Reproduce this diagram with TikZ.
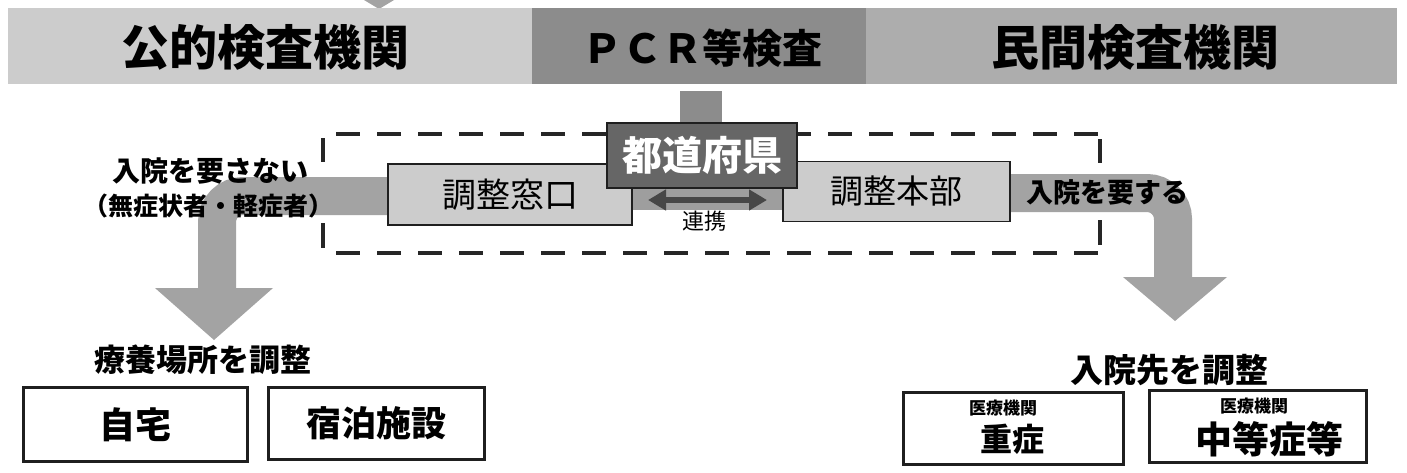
\documentclass[tikz,border=0pt]{standalone}
\usepackage{fontspec}
\setmainfont{Noto Sans CJK JP}
\usetikzlibrary{arrows.meta}
\definecolor{barL}{gray}{0.80}
\definecolor{barM}{gray}{0.55}
\definecolor{barR}{gray}{0.68}
\definecolor{bandgray}{gray}{0.64}
\definecolor{prefgray}{gray}{0.40}
\definecolor{boxgray}{gray}{0.80}
\definecolor{linkbg}{gray}{0.62}
\definecolor{linkarrow}{gray}{0.28}
\definecolor{edge}{gray}{0.12}
\begin{document}
\begin{tikzpicture}[x=1pt,y=-1pt,
  fs/.style={font=\fontsize{#1}{#1}\selectfont},
  fsb/.style={font=\fontsize{#1}{#1}\selectfont\bfseries},
  barsec/.style={inner sep=0pt, minimum height=76pt},
  band/.style={line width=38pt, draw=bandgray, rounded corners=26pt},
  head/.style={fill=bandgray},
  grayBox/.style={draw=edge, line width=1.6pt, fill=boxgray, inner sep=0pt},
  whiteBox/.style={draw=edge, line width=3.5pt, fill=white, inner sep=0pt},
  frame/.style={line width=4.5pt, draw=black!85, dash pattern=on 24pt off 17pt},
  txt/.style={inner sep=0pt, text=black}
]
\useasboundingbox[fill=white] (0,0) rectangle (1407,472);

% small cut-off arrow tip at the top
\fill[bandgray] (364,0) -- (394,0) -- (379,9) -- cycle;

% top bar
\node[barsec, fill=barL, minimum width=524pt] (barl) at (270,46) {};
\node[barsec, fill=barM, minimum width=334pt] (barm) at (699,46) {};
\node[barsec, fill=barR, minimum width=531pt] (barr) at (1131.5,46) {};
\node[txt, fsb=48] (tl) at (265,47) {公的検査機関};
\node[txt, fsb=40] (tm) at (702,48) {ＰＣＲ等検査};
\node[txt, fsb=48] (tr) at (1135,47) {民間検査機関};

% stem below PCR
\node[fill=barM, inner sep=0pt, minimum width=42pt, minimum height=34pt] (stem) at (701,108) {};

% link background between boxes
\node[fill=linkbg, inner sep=0pt, minimum width=152pt, minimum height=22pt] (linkbg) at (707,199) {};

% boxes
\node[grayBox, minimum width=244pt, minimum height=61pt] (mado) at (510,194.5) {};
\node[grayBox, minimum width=227pt, minimum height=60pt] (honbu) at (896.5,191.5) {};

% bands (connectors)
\coordinate (lcorner) at (217,196);
\coordinate (lend) at (217,292);
\coordinate (rcorner) at (1173,193);
\coordinate (rend) at (1173,280);
\draw[band] (mado.west |- lcorner) ++(2,0) -- (lcorner) -- (lend);
\draw[band] (honbu.east |- rcorner) ++(-2,0) -- (rcorner) -- (rend);
\fill[head] (155,288) -- (273,288) -- (214,340) -- cycle;
\fill[head] (1123,277) -- (1227,277) -- (1175,321) -- cycle;

% redraw boxes on top of band ends
\node[grayBox, minimum width=244pt, minimum height=61pt] (mado2) at (mado) {};
\node[grayBox, minimum width=227pt, minimum height=60pt] (honbu2) at (honbu) {};
\node[txt, fs=34] at (mado) {調整窓口};
\node[txt, fs=33] at (honbu) {調整本部};

% dashed frame
\draw[frame] (336,134) -- (1098,134);
\draw[frame] (336,253) -- (1098,253);
\draw[line width=4.5pt, draw=black!85] (323,138) -- (323,162);
\draw[line width=4.5pt, draw=black!85] (323,223) -- (323,248);
\draw[line width=4.5pt, draw=black!85] (1100,139) -- (1100,163);
\draw[line width=4.5pt, draw=black!85] (1100,220) -- (1100,245);

% prefecture box
\node[draw=edge, line width=1.6pt, fill=prefgray, inner sep=0pt, minimum width=190pt, minimum height=65pt] (pref) at (702,155.5) {};
\node[txt, fsb=40, text=white] at (pref) {都道府県};

% link arrow
\draw[line width=6pt, draw=linkarrow, {Triangle[width=20pt,length=18pt]}-{Triangle[width=20pt,length=18pt]}] (648,200) -- (767,200);
\node[txt, fs=22] (renkei) at (704,221) {連携};

% band labels
\node[txt, fsb=28] (l1) at (210,171) {入院を要さない};
\node[txt, fsb=25] (l2) at (208,206) {（無症状者・軽症者）};
\node[txt, fsb=27] (r1) at (1107,192) {入院を要する};

% bottom headings
\node[txt, fsb=31] (hl) at (203,360) {療養場所を調整};
\node[txt, fsb=33] (hr) at (1169,370) {入院先を調整};

% bottom boxes
\node[whiteBox, minimum width=224pt, minimum height=74pt] (jitaku) at (135.5,424.5) {};
\node[txt, fsb=36] at (jitaku) {自宅};
\node[whiteBox, minimum width=216pt, minimum height=72pt] (shuku) at (376.5,423.5) {};
\node[txt, fsb=35] at (shuku) {宿泊施設};
\node[whiteBox, minimum width=220pt, minimum height=72pt] (ju) at (1013.5,428.5) {};
\node[txt, fsb=17] at (1003,408) {医療機関};
\node[txt, fsb=32] at (1012,439) {重症};
\node[whiteBox, minimum width=217pt, minimum height=72pt] (chu) at (1258,426.5) {};
\node[txt, fsb=17] at (1254,406) {医療機関};
\node[txt, fsb=37] at (1269,439) {中等症等};
\end{tikzpicture}
\end{document}
